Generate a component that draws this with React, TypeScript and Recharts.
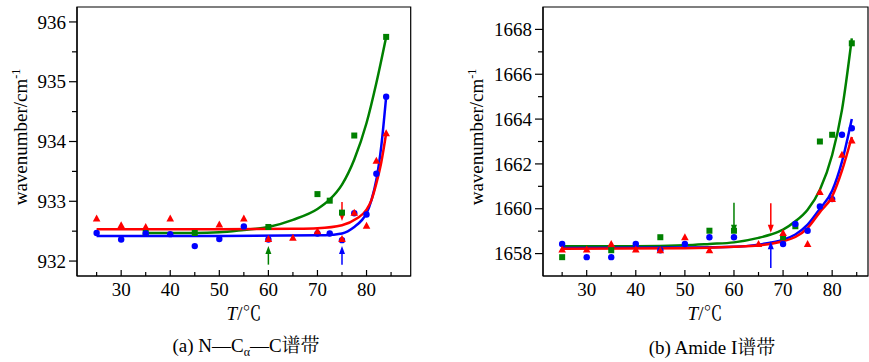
import React from "react";
import {
  ComposedChart,
  XAxis,
  YAxis,
  Line,
  Scatter,
  ReferenceLine,
  ReferenceArea,
} from "recharts";

const FONT = "Liberation Serif, Noto Serif CJK SC, serif";
const RED = "#ff0000";
const BLUE = "#0000ff";
const GREEN = "#008000";

// ---- (a) N—Cα—C band ----
const aRedT = [25, 30, 35, 40, 50, 55, 60, 65, 70, 75, 77.5, 80, 82, 84];
const aRedV = [932.71, 932.6, 932.57, 932.71, 932.61, 932.71, 932.37, 932.39, 932.5, 932.37, 932.81, 932.59, 933.68, 934.14];
const aBlueT = [25, 30, 35, 40, 45, 50, 55, 60, 70, 72.5, 75, 77.5, 80, 82, 84];
const aBlueV = [932.47, 932.36, 932.46, 932.45, 932.25, 932.37, 932.58, 932.36, 932.46, 932.46, 932.35, 932.8, 932.78, 933.46, 934.75];
const aGreenT = [35, 45, 60, 70, 72.5, 75, 77.5, 84];
const aGreenV = [932.47, 932.47, 932.57, 933.12, 933.01, 932.81, 934.1, 935.75];

const aRedFitT = [25, 50, 65, 70, 75, 78, 80, 81, 82, 83, 84];
const aRedFitV = [932.53, 932.53, 932.54, 932.55, 932.6, 932.71, 932.86, 933.02, 933.3, 933.65, 934.14];
const aBlueFitT = [25, 50, 70, 73, 75, 77.5, 79, 80, 81, 82, 83, 84];
const aBlueFitV = [932.42, 932.42, 932.43, 932.44, 932.46, 932.57, 932.68, 932.8, 933.02, 933.36, 933.92, 934.75];
const aGreenFitT = [35, 45, 50, 55, 60, 65, 70, 72.5, 75, 77.5, 80, 82, 84];
const aGreenFitV = [932.47, 932.47, 932.48, 932.52, 932.57, 932.69, 932.87, 933.03, 933.28, 933.7, 934.31, 934.98, 935.75];

const aXTicks = [25, 30, 35, 40, 45, 50, 55, 60, 65, 70, 75, 80, 85];
const aYTicks = [932, 932.5, 933, 933.5, 934, 934.5, 935, 935.5, 936];
const aMajorY = [932, 933, 934, 935, 936];

// arrows: T position, tail value, head value
const aArrows = [
  { t: 60, from: 931.94, to: 932.25, color: GREEN },
  { t: 75, from: 931.94, to: 932.25, color: BLUE },
  { t: 75, from: 932.99, to: 932.67, color: RED },
];

// ---- (b) Amide I band ----
const bBlueT = [25, 30, 35, 40, 45, 50, 55, 60, 70, 72.5, 75, 77.5, 80, 82, 84];
const bBlueV = [1658.43, 1657.84, 1657.84, 1658.43, 1658.15, 1658.43, 1658.73, 1658.73, 1658.43, 1659.32, 1659.02, 1660.1, 1660.43, 1663.3, 1663.59];
const bRedT = [25, 30, 35, 40, 45, 50, 55, 65, 70, 75, 77.5, 80, 82, 84];
const bRedV = [1658.18, 1658.18, 1658.43, 1658.18, 1658.15, 1658.73, 1658.15, 1658.43, 1658.92, 1658.43, 1660.75, 1660.43, 1662.41, 1663.04];
const bGreenT = [25, 35, 45, 55, 60, 70, 72.5, 77.5, 80, 84];
const bGreenV = [1657.84, 1658.15, 1658.73, 1659.02, 1659.02, 1658.73, 1659.22, 1663.0, 1663.3, 1667.38];

const bGreenFitT = [25, 40, 50, 55, 60, 65, 67.5, 70, 72.5, 75, 77.5, 80, 82, 84];
const bGreenFitV = [1658.33, 1658.33, 1658.37, 1658.43, 1658.5, 1658.7, 1658.85, 1659.07, 1659.44, 1659.96, 1660.85, 1662.4, 1664.41, 1667.6];
const bBlueFitT = [25, 50, 60, 65, 70, 72.5, 75, 77.5, 80, 82, 84];
const bBlueFitV = [1658.25, 1658.27, 1658.3, 1658.4, 1658.62, 1658.85, 1659.29, 1660.0, 1660.8, 1662.1, 1664.0];
const bRedFitT = [25, 50, 60, 65, 70, 72.5, 75, 77.5, 80, 82, 84];
const bRedFitV = [1658.22, 1658.24, 1658.3, 1658.36, 1658.55, 1658.74, 1659.14, 1659.85, 1660.55, 1661.7, 1663.2];

const bXTicks = [25, 30, 35, 40, 45, 50, 55, 60, 65, 70, 75, 80, 85];
const bYTicks = [1658, 1659, 1660, 1661, 1662, 1663, 1664, 1665, 1666, 1667, 1668];
const bMajorY = [1658, 1660, 1662, 1664, 1666, 1668];

const bArrows = [
  { t: 60, from: 1660.27, to: 1658.93, color: GREEN },
  { t: 67.5, from: 1660.24, to: 1658.93, color: RED },
  { t: 67.5, from: 1657.36, to: 1658.55, color: BLUE },
];

const zip = (xs: number[], ys: number[]) => xs.map((x, i) => ({ x, y: ys[i] }));

const Circle = (p: any) => <circle cx={p.cx} cy={p.cy} r={3.2} fill={BLUE} />;
const Square = (p: any) => <rect x={p.cx - 3} y={p.cy - 3} width={6} height={6} fill={GREEN} />;
const Tri = (p: any) => (
  <polygon
    points={`${p.cx},${p.cy - 4} ${p.cx - 3.8},${p.cy + 3} ${p.cx + 3.8},${p.cy + 3}`}
    fill={RED}
  />
);

function Arrow(props: any) {
  const { x1, y1, x2, y2, color } = props;
  const dir = y2 > y1 ? 1 : -1;
  return (
    <g>
      <line x1={x1} y1={y1} x2={x2} y2={y2 - dir * 6} stroke={color} strokeWidth={1.5} />
      <polygon points={`${x2},${y2} ${x2 - 3},${y2 - dir * 8} ${x2 + 3},${y2 - dir * 8}`} fill={color} />
    </g>
  );
}

function XTick({ x, y, payload }: any) {
  const major = payload.value % 10 === 0;
  const label = major && payload.value >= 30 && payload.value <= 80;
  return (
    <g>
      <line x1={x} x2={x} y1={y} y2={y - (major ? 6 : 4)} stroke="#000" strokeWidth={1.2} />
      {label && (
        <text x={x} y={y + 20} textAnchor="middle" fontSize={19} fontFamily={FONT} fill="#000">
          {payload.value}
        </text>
      )}
    </g>
  );
}

function makeYTick(majors: number[]) {
  return function YTick({ x, y, payload }: any) {
    const major = majors.includes(payload.value);
    return (
      <g>
        <line x1={x} x2={x - (major ? 8 : 5)} y1={y} y2={y} stroke="#000" strokeWidth={1.2} />
        {major && (
          <text x={x - 11} y={y} dy="0.35em" textAnchor="end" fontSize={19} fontFamily={FONT} fill="#000">
            {payload.value}
          </text>
        )}
      </g>
    );
  };
}

interface Pt {
  x: number;
  y: number;
}

interface PanelProps {
  width: number;
  yWidth: number;
  right: number;
  xDomain: [number, number];
  yDomain: [number, number];
  xTicks: number[];
  yTicks: number[];
  majorY: number[];
  red: Pt[];
  blue: Pt[];
  green: Pt[];
  redFit: Pt[];
  blueFit: Pt[];
  greenFit: Pt[];
  arrows: { t: number; from: number; to: number; color: string }[];
}

function Panel(p: PanelProps) {
  const YTick = makeYTick(p.majorY);
  return (
    <ComposedChart
      width={p.width}
      height={362}
      margin={{ top: 7, right: p.right, bottom: 46, left: 0 }}
    >
      <XAxis
        type="number"
        dataKey="x"
        domain={p.xDomain}
        ticks={p.xTicks}
        interval={0}
        allowDataOverflow
        height={40}
        tickSize={0}
        tickMargin={0}
        tick={<XTick />}
        axisLine={{ stroke: "#000", strokeWidth: 1.2 }}
        tickLine={false}
      />
      <YAxis
        type="number"
        dataKey="y"
        domain={p.yDomain}
        ticks={p.yTicks}
        interval={0}
        allowDataOverflow
        width={p.yWidth}
        tickSize={0}
        tickMargin={0}
        tick={<YTick />}
        axisLine={{ stroke: "#000", strokeWidth: 1.2 }}
        tickLine={false}
      />
      <ReferenceArea
        x1={p.xDomain[0]}
        x2={p.xDomain[1]}
        y1={p.yDomain[0]}
        y2={p.yDomain[1]}
        fill="none"
        fillOpacity={0}
        stroke="#000"
        strokeWidth={1.2}
      />
      <Line data={p.greenFit} dataKey="y" type="monotone" stroke={GREEN} strokeWidth={2.5} dot={false} isAnimationActive={false} />
      <Line data={p.blueFit} dataKey="y" type="monotone" stroke={BLUE} strokeWidth={2.5} dot={false} isAnimationActive={false} />
      <Line data={p.redFit} dataKey="y" type="monotone" stroke={RED} strokeWidth={2.5} dot={false} isAnimationActive={false} />
      <Scatter data={p.green} dataKey="y" shape={Square} isAnimationActive={false} />
      <Scatter data={p.blue} dataKey="y" shape={Circle} isAnimationActive={false} />
      <Scatter data={p.red} dataKey="y" shape={Tri} isAnimationActive={false} />
      {p.arrows.map((a, i) => (
        <ReferenceLine
          key={i}
          segment={[
            { x: a.t, y: a.from },
            { x: a.t, y: a.to },
          ]}
          stroke={a.color}
          shape={(sp: any) => <Arrow {...sp} color={a.color} />}
        />
      ))}
    </ComposedChart>
  );
}

const textStyle: React.CSSProperties = {
  position: "absolute",
  fontFamily: FONT,
  fontSize: 19,
  color: "#000",
  whiteSpace: "nowrap",
  transform: "translate(-50%, -50%)",
  lineHeight: 1,
};

function YLabel({ cx, cy }: { cx: number; cy: number }) {
  return (
    <div style={{ ...textStyle, left: cx, top: cy, transform: "translate(-50%, -50%) rotate(-90deg)" }}>
      wavenumber/cm<sup style={{ fontSize: 12 }}>-1</sup>
    </div>
  );
}

export default function App() {
  return (
    <div style={{ position: "absolute", left: 0, top: 0, width: 869, height: 362, background: "#fff", overflow: "hidden" }}>
      <div style={{ position: "absolute", left: 0, top: 0 }}>
        <Panel
          width={420}
          yWidth={77}
          right={9.3}
          xDomain={[21, 89]}
          yDomain={[931.75, 936.25]}
          xTicks={aXTicks}
          yTicks={aYTicks}
          majorY={aMajorY}
          red={zip(aRedT, aRedV)}
          blue={zip(aBlueT, aBlueV)}
          green={zip(aGreenT, aGreenV)}
          redFit={zip(aRedFitT, aRedFitV)}
          blueFit={zip(aBlueFitT, aBlueFitV)}
          greenFit={zip(aGreenFitT, aGreenFitV)}
          arrows={aArrows}
        />
      </div>
      <div style={{ position: "absolute", left: 430, top: 0 }}>
        <Panel
          width={439}
          yWidth={113}
          right={1}
          xDomain={[21.1, 87.3]}
          yDomain={[1657, 1669]}
          xTicks={bXTicks}
          yTicks={bYTicks}
          majorY={bMajorY}
          red={zip(bRedT, bRedV)}
          blue={zip(bBlueT, bBlueV)}
          green={zip(bGreenT, bGreenV)}
          redFit={zip(bRedFitT, bRedFitV)}
          blueFit={zip(bBlueFitT, bBlueFitV)}
          greenFit={zip(bGreenFitT, bGreenFitV)}
          arrows={bArrows}
        />
      </div>
      <YLabel cx={20} cy={137} />
      <YLabel cx={476} cy={137} />
      <div style={{ ...textStyle, left: 244, top: 313 }}>
        <i>T</i>/℃
      </div>
      <div style={{ ...textStyle, left: 705, top: 313 }}>
        <i>T</i>/℃
      </div>
      <div style={{ ...textStyle, left: 246, top: 347 }}>
        (a) N—C<sub style={{ fontSize: 12 }}>α</sub>—C谱带
      </div>
      <div style={{ ...textStyle, left: 712, top: 347 }}>
        (b) Amide I谱带
      </div>
    </div>
  );
}
